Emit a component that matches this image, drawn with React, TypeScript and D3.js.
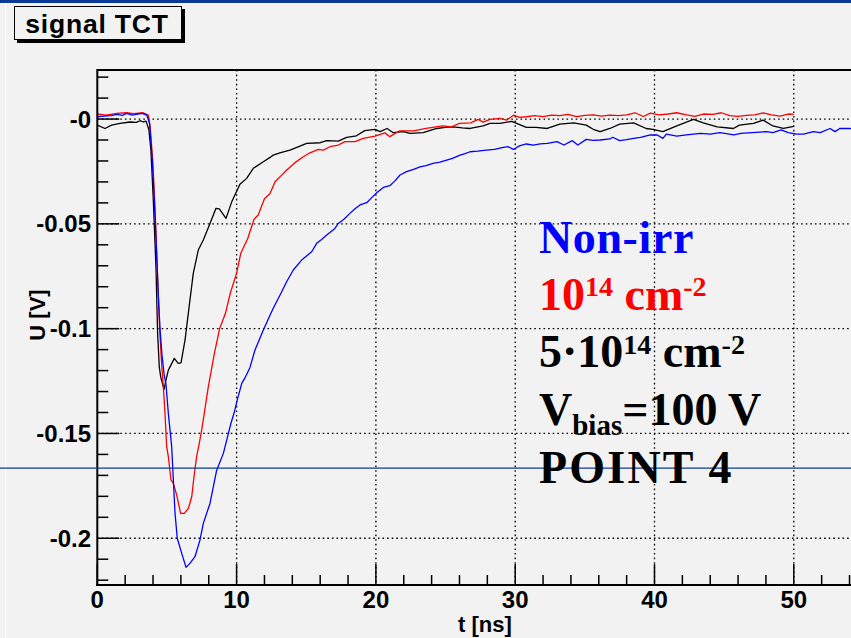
import React from "react";
import * as d3 from "d3";

const W = 851;
const H = 638;

// Signal traces: [time in ns, amplitude in V]
const nonIrr: [number, number][] = [
  [0, 0.0011], [0.5, 0.0014], [1.0, 0.0016], [1.4, 0.0022], [1.8, 0.0017], [2.1, 0.0027], [2.5, 0.0019],
  [2.9, 0.0024], [3.2, 0.0027], [3.55, 0.0019], [3.75, -0.002], [3.95, -0.02], [4.07, -0.036], [4.17, -0.05],
  [4.28, -0.068], [4.39, -0.085], [4.5, -0.1], [4.65, -0.113], [4.8, -0.122], [4.93, -0.1265], [5.1, -0.1404],
  [5.34, -0.1563], [5.46, -0.1722], [5.58, -0.1881], [5.74, -0.2], [6.06, -0.2072], [6.37, -0.2139],
  [6.65, -0.212], [7.01, -0.2088], [7.37, -0.2009], [7.61, -0.1929], [8.09, -0.1834], [8.57, -0.1675],
  [9.05, -0.1595], [9.29, -0.1532], [9.6, -0.145], [9.85, -0.1395], [10.05, -0.134], [10.37, -0.1261],
  [10.6, -0.1235], [10.96, -0.1185], [11.32, -0.1102], [11.92, -0.1007], [12.3, -0.095], [12.63, -0.0903],
  [13.24, -0.0824], [13.6, -0.0775], [14.07, -0.072], [14.67, -0.0673], [15.39, -0.0633], [15.75, -0.0593],
  [16.1, -0.0575], [16.47, -0.0553], [17.06, -0.0522], [17.3, -0.0498], [17.7, -0.0478], [18.14, -0.045],
  [18.5, -0.0428], [18.86, -0.041], [19.34, -0.0399], [19.7, -0.0375], [20.06, -0.0352], [20.53, -0.0326],
  [21.0, -0.0318], [21.37, -0.0295], [21.73, -0.0267], [22.2, -0.0251], [22.7, -0.024], [23.17, -0.0228],
  [23.6, -0.0222], [24.1, -0.0211], [24.6, -0.0205], [25.08, -0.0196], [25.5, -0.0188], [26.04, -0.0172],
  [26.4, -0.0165], [26.76, -0.0156], [27.3, -0.0153], [27.95, -0.0148], [28.5, -0.0145], [29.15, -0.0135],
  [29.5, -0.0132], [29.87, -0.0145], [30.3, -0.0128], [30.8, -0.0119], [31.3, -0.0124], [31.8, -0.0118],
  [32.3, -0.0116], [33.0, -0.0108], [33.5, -0.0124], [34.1, -0.0103], [34.5, -0.0124], [35.1, -0.0097],
  [35.6, -0.0102], [36.1, -0.01], [36.8, -0.0095], [37.0, -0.0087], [37.5, -0.0103], [38.0, -0.0098],
  [38.5, -0.0092], [39.0, -0.0087], [39.7, -0.0076], [40.2, -0.0076], [40.6, -0.0092], [40.85, -0.0072],
  [41.6, -0.0081], [42.3, -0.0076], [43.3, -0.0068], [44.0, -0.0072], [44.7, -0.0065], [45.7, -0.0076],
  [46.2, -0.0068], [47.0, -0.0065], [48.05, -0.006], [48.5, -0.0065], [49.1, -0.0052], [49.6, -0.0065],
  [50.2, -0.0072], [50.7, -0.0072], [51.4, -0.006], [51.9, -0.0065], [52.6, -0.0045], [52.96, -0.006],
  [53.3, -0.0045], [54.0, -0.0045], [54.5, -0.0048],
];

const fluence1e14: [number, number][] = [
  [0, 0.0024], [0.6, 0.0019], [1.4, 0.0027], [2.1, 0.003], [2.6, 0.0026], [3.3, 0.003], [3.66, 0.0019],
  [3.8, -0.004], [3.98, -0.02], [4.1, -0.036], [4.2, -0.052], [4.3, -0.07], [4.4, -0.088], [4.5, -0.103],
  [4.62, -0.117], [4.74, -0.1277], [4.86, -0.1403], [4.98, -0.1563], [5.1, -0.1611], [5.29, -0.1722],
  [5.46, -0.1738], [5.7, -0.1794], [5.98, -0.1881], [6.25, -0.1881], [6.54, -0.1857], [6.78, -0.1802],
  [6.94, -0.1707], [7.13, -0.1611], [7.32, -0.1547], [7.49, -0.1484], [7.68, -0.1404], [7.97, -0.1277],
  [8.4, -0.112], [8.78, -0.1], [9.2, -0.0927], [9.55, -0.083], [10.0, -0.0736], [10.3, -0.064],
  [10.8, -0.057], [11.25, -0.0478], [11.55, -0.0458], [12.0, -0.038], [12.4, -0.0355], [12.76, -0.0299],
  [13.2, -0.027], [13.6, -0.0243], [14.19, -0.0208], [14.79, -0.018], [15.27, -0.0161], [15.87, -0.0145],
  [16.23, -0.0148], [16.7, -0.0132], [17.3, -0.0124], [17.78, -0.0108], [18.5, -0.0108], [19.1, -0.0092],
  [19.94, -0.0081], [20.65, -0.0066], [21.0, -0.0084], [21.7, -0.0056], [22.7, -0.0056], [23.6, -0.0045],
  [24.8, -0.0033], [25.4, -0.0038], [26.0, -0.0021], [26.8, -0.0018], [27.35, -0.0002], [27.7, -0.0015],
  [28.2, -0.0002], [28.9, 0.0003], [29.4, -0.0005], [29.9, 0.0019], [30.3, 0.0008], [30.8, 0.0011],
  [31.4, 0.0016], [32.0, 0.0012], [32.6, 0.0019], [33.2, 0.0016], [33.8, 0.0022], [34.4, 0.0012],
  [35.0, 0.0018], [35.6, 0.002], [36.2, 0.0014], [36.8, 0.0019], [37.4, 0.0016], [38.0, 0.002],
  [38.6, 0.003], [39.2, 0.0012], [39.7, 0.0028], [40.3, 0.002], [41.0, 0.0024], [41.6, 0.003],
  [42.3, 0.002], [42.9, 0.0013], [43.5, 0.0024], [44.2, 0.0022], [44.8, 0.003], [45.4, 0.0016],
  [46.0, 0.0013], [46.6, 0.0018], [47.2, 0.002], [47.8, 0.003], [48.4, 0.002], [49.0, 0.0014],
  [49.6, 0.0024], [50.0, 0.0022],
];

const fluence5e14: [number, number][] = [
  [0, -0.0029], [0.55, -0.0045], [1.03, -0.0029], [1.63, -0.0021], [2.35, -0.0014], [2.8, -0.0016],
  [3.07, -0.0008], [3.3, -0.0014], [3.5, -0.001], [3.7, -0.005], [3.85, -0.015], [4.02, -0.0386],
  [4.21, -0.0705], [4.33, -0.1022], [4.45, -0.1182], [4.55, -0.123], [4.79, -0.129], [4.93, -0.1245],
  [5.1, -0.1198], [5.53, -0.1142], [5.81, -0.1166], [6.01, -0.1163], [6.3, -0.1054], [6.65, -0.0864],
  [6.89, -0.0736], [7.25, -0.0625], [7.61, -0.0577], [8.09, -0.0498], [8.52, -0.0426], [8.76, -0.0429],
  [9.24, -0.0474], [9.65, -0.0395], [10.24, -0.0311], [10.72, -0.0283], [11.2, -0.0235], [11.92, -0.0204],
  [12.4, -0.0183], [12.63, -0.0172], [13.1, -0.0161], [13.83, -0.0148], [14.55, -0.0129], [15.03, -0.0116],
  [16.0, -0.0113], [16.47, -0.0103], [17.3, -0.0105], [17.9, -0.0087], [18.6, -0.008], [19.2, -0.0055],
  [19.94, -0.0049], [20.3, -0.006], [20.8, -0.0045], [21.25, -0.0065], [21.97, -0.006], [22.45, -0.0068],
  [23.4, -0.0065], [24.36, -0.0045], [25.0, -0.004], [25.56, -0.0037], [26.2, -0.0042], [26.76, -0.0045],
  [27.7, -0.0033], [28.2, -0.0021], [28.9, -0.0021], [29.75, -0.0011], [30.1, -0.0021], [30.8, -0.004],
  [31.5, -0.004], [32.3, -0.0045], [33.2, -0.0024], [34.2, -0.0018], [35.1, -0.0029], [35.6, -0.0049],
  [36.1, -0.006], [36.8, -0.0045], [37.5, -0.0024], [38.5, -0.0018], [39.4, -0.0045], [39.9, -0.0049],
  [40.6, -0.006], [41.6, -0.0033], [42.8, -0.0002], [43.5, -0.0018], [44.5, -0.0037], [45.66, -0.0045],
  [46.1, -0.0029], [47.1, -0.0021], [47.8, -0.0005], [48.5, -0.0033], [49.25, -0.0045], [50.0, -0.0035],
];

const xTickValues = [0, 10, 20, 30, 40, 50, 60];
const xTickLabels = ["0", "10", "20", "30", "40", "50"];
const yTickValues = [0, -0.05, -0.1, -0.15, -0.2];
const yTickLabels = ["-0", "-0.05", "-0.1", "-0.15", "-0.2"];
const cutLevel = -0.1665;

const SANS = "'Liberation Sans', Arial, Helvetica, sans-serif";
const SERIF = "'Liberation Serif', 'Times New Roman', serif";

export default function App() {
  const left = 97.3;
  const top = 70;
  const bottom = 585;
  const x = d3.scaleLinear().domain([0, 60]).range([left, left + 60 * 13.93]);
  const y = d3.scaleLinear().domain([-0.2223, 0.0234]).range([bottom, top]);

  const line = d3
    .line<[number, number]>()
    .x((d) => x(d[0]))
    .y((d) => y(d[1]));

  const xMinor = d3.range(0, 61, 2).filter((v) => v % 10 !== 0);
  const yMinor = d3
    .range(-22, 3)
    .map((i) => i / 100)
    .filter((v) => Math.round(v * 100) % 5 !== 0);

  const bg = "#f2f2f2";
  const sup = 28;

  return (
    <svg
      width={W}
      height={H}
      viewBox={`0 0 ${W} ${H}`}
      style={{ position: "fixed", left: 0, top: 0, display: "block" }}
    >
      <defs>
        <clipPath id="plotArea">
          <rect x={left} y={top} width={W - left} height={bottom - top} />
        </clipPath>
      </defs>
      <rect x={0} y={0} width={W} height={H} fill={bg} />
      <rect x={0} y={0} width={W} height={3} fill="#0a3a96" />
      <line x1={5.5} y1={3} x2={5.5} y2={H} stroke="#fbfbfb" strokeWidth={1} />

      {/* title box with shadow */}
      <rect x={17} y={40} width={168} height={3} fill="#000" />
      <rect x={182} y={9} width={3} height={34} fill="#000" />
      <rect x={14.5} y={6.5} width={167} height={33} fill={bg} stroke="#000" strokeWidth={1} />
      <text
        x={97}
        y={32.5}
        textAnchor="middle"
        fontFamily={SANS}
        fontWeight="bold"
        fontSize={26.5}
        letterSpacing={0.8}
        fill="#000"
      >
        signal TCT
      </text>

      {/* grid */}
      <g stroke="#000" strokeWidth={1.3} strokeDasharray="1.6 3">
        {xTickValues
          .filter((v) => v > 0)
          .map((v) => (
            <line key={`gx${v}`} x1={x(v)} x2={x(v)} y1={top} y2={bottom} />
          ))}
        {yTickValues.map((v) => (
          <line key={`gy${v}`} x1={left} x2={W} y1={y(v)} y2={y(v)} />
        ))}
      </g>

      {/* ticks */}
      <g stroke="#000" strokeWidth={1.5}>
        {xTickValues.map((v) => (
          <line key={`tx${v}`} x1={x(v)} x2={x(v)} y1={bottom} y2={bottom - 21} />
        ))}
        {xMinor.map((v) => (
          <line key={`mx${v}`} x1={x(v)} x2={x(v)} y1={bottom} y2={bottom - 10} />
        ))}
        {yTickValues.map((v) => (
          <line key={`ty${v}`} x1={left} x2={left + 22} y1={y(v)} y2={y(v)} />
        ))}
        {yMinor.map((v) => (
          <line key={`my${v}`} x1={left} x2={left + 11} y1={y(v)} y2={y(v)} />
        ))}
      </g>

      {/* signal traces */}
      <g clipPath="url(#plotArea)" fill="none" strokeWidth={1.3} strokeLinejoin="round">
        <path d={line(fluence5e14) ?? ""} stroke="#000000" />
        <path d={line(fluence1e14) ?? ""} stroke="#ff0000" />
        <path d={line(nonIrr) ?? ""} stroke="#0000ff" />
      </g>

      {/* frame */}
      <g stroke="#000" strokeWidth={2} fill="none">
        <line x1={left} x2={W} y1={top} y2={top} />
        <line x1={left} x2={left} y1={top - 1} y2={bottom + 1} />
        <line x1={left - 1} x2={W} y1={bottom} y2={bottom} />
      </g>

      {/* cut level line */}
      <line x1={0} x2={W} y1={y(cutLevel)} y2={y(cutLevel)} stroke="#0b3d99" strokeWidth={1.2} />

      {/* tick labels */}
      <g fontFamily={SANS} fontWeight="bold" fontSize={24} fill="#000">
        {xTickLabels.map((label, i) => (
          <text key={`lx${label}`} x={x(xTickValues[i])} y={608} textAnchor="middle">
            {label}
          </text>
        ))}
        {yTickValues.map((v, i) => (
          <text key={`ly${v}`} x={91} y={y(v)} dy="0.36em" textAnchor="end">
            {yTickLabels[i]}
          </text>
        ))}
      </g>

      {/* axis titles */}
      <text x={485} y={632} textAnchor="middle" fontFamily={SANS} fontWeight="bold" fontSize={22}>
        t [ns]
      </text>
      <text
        transform="translate(45,315) rotate(-90)"
        textAnchor="middle"
        fontFamily={SANS}
        fontWeight="bold"
        fontSize={22}
      >
        U [V]
      </text>

      {/* legend */}
      <g fontFamily={SERIF} fontWeight="bold" fontSize={46}>
        <text x={539} y={253} fill="#0000ff" letterSpacing={0.6}>Non-irr</text>
        <text x={539} y={310} fill="#ff0000">
          10<tspan fontSize={sup} dy={-14}>14</tspan>
          <tspan dy={14}> cm</tspan>
          <tspan fontSize={sup} dy={-14}>-2</tspan>
        </text>
        <text x={539} y={367} fill="#000">
          5·10<tspan fontSize={sup} dy={-13}>14</tspan>
          <tspan dy={13}> cm</tspan>
          <tspan fontSize={sup} dy={-13}>-2</tspan>
        </text>
        <text x={539} y={425} fill="#000">
          V<tspan fontSize={29} dy={10}>bias</tspan>
          <tspan dy={-10}>=100 V</tspan>
        </text>
        <text x={539} y={483} fill="#000" letterSpacing={2.2}>POINT 4</text>
      </g>
    </svg>
  );
}
